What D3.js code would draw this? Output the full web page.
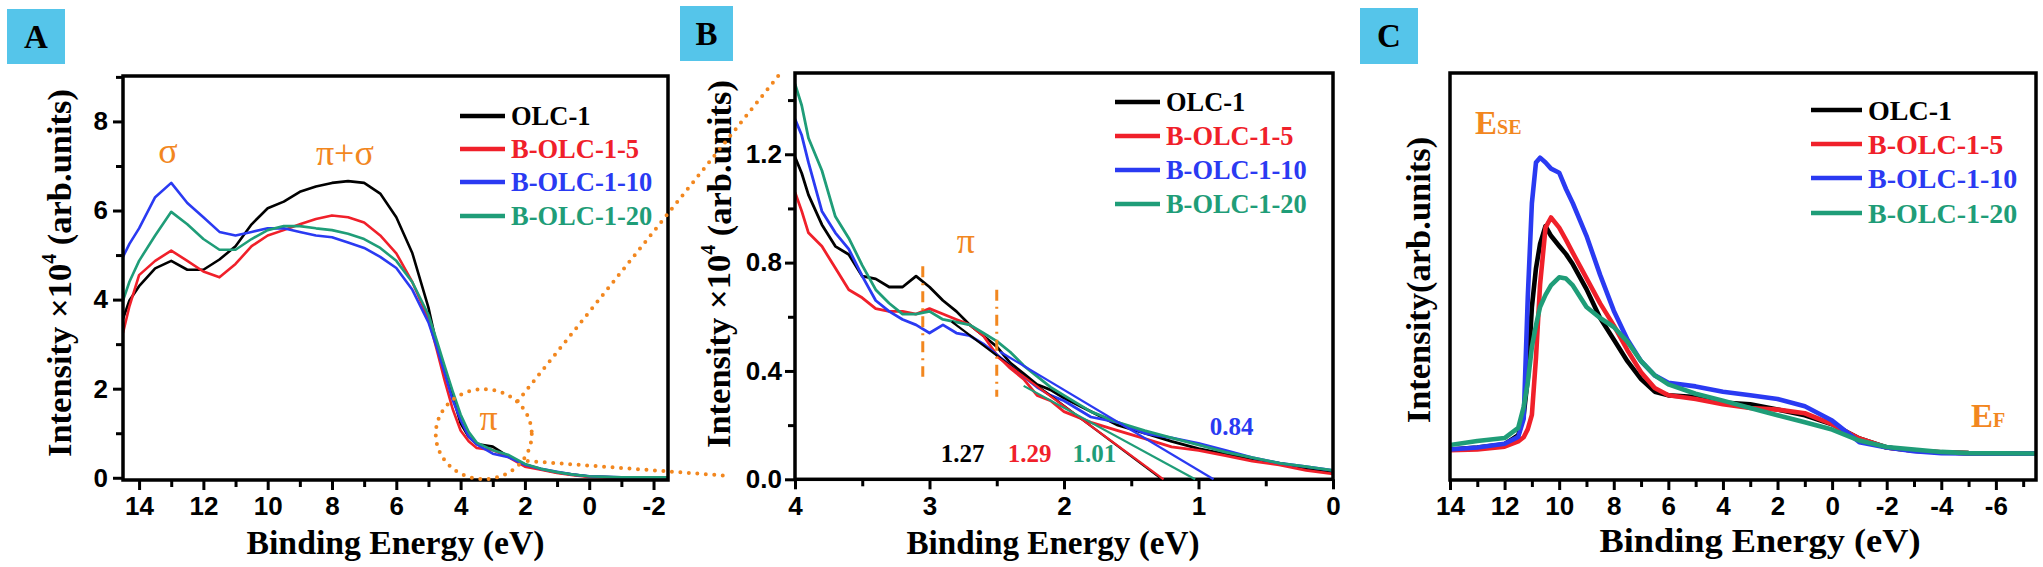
<!DOCTYPE html>
<html><head><meta charset="utf-8">
<script src="https://cdn.jsdelivr.net/npm/d3@7"></script>
<style>body{margin:0;background:#fff}svg{display:block}</style>
</head><body><svg id="c" width="2043" height="567"></svg>
<script>
// ---------------- DATA ----------------
const seriesNames = ["OLC-1", "B-OLC-1-5", "B-OLC-1-10", "B-OLC-1-20"];
const seriesColors = ["#000000", "#f0202a", "#2a3af2", "#1f9d78"];

// Panel A : UPS spectra (Intensity x10^4)
const energyA = [14.5,14.3,14,13.5,13,12.5,12,11.5,11,10.5,10,9.5,9,8.5,8,7.5,7,6.5,6,5.5,5,4.75,4.5,4.25,4,3.75,3.5,3,2.5,2,1.5,1,0.5,0,-1,-2.45];
const olcA   = [3.57,3.98,4.3,4.7,4.87,4.67,4.67,4.9,5.2,5.69,6.05,6.2,6.42,6.54,6.62,6.66,6.62,6.38,5.85,5.04,3.82,3.0,2.44,1.85,1.22,0.92,0.76,0.7,0.47,0.3,0.19,0.12,0.07,0.03,0.005,0.0];
const b5A    = [3.25,3.85,4.55,4.87,5.1,4.87,4.63,4.5,4.8,5.2,5.44,5.56,5.69,5.81,5.89,5.85,5.73,5.44,5.04,4.39,3.57,2.9,2.19,1.55,1.06,0.82,0.67,0.62,0.46,0.25,0.18,0.107,0.06,0.02,0.005,0.0];
const b10A   = [4.96,5.25,5.6,6.3,6.62,6.17,5.85,5.52,5.44,5.52,5.6,5.6,5.52,5.44,5.4,5.28,5.16,4.96,4.71,4.22,3.49,2.95,2.36,1.75,1.3,0.93,0.75,0.54,0.46,0.29,0.2,0.133,0.07,0.033,0.01,0.005];
const b20A   = [3.98,4.4,4.87,5.44,5.97,5.69,5.36,5.12,5.12,5.36,5.56,5.65,5.65,5.6,5.56,5.48,5.36,5.16,4.87,4.39,3.66,3.1,2.52,1.95,1.42,1.03,0.79,0.62,0.51,0.31,0.2,0.127,0.07,0.033,0.01,0.01];

// Panel B : zoom of the pi region
const energyB = [4,3.95,3.9,3.8,3.7,3.6,3.5,3.4,3.3,3.2,3.1,3.0,2.9,2.8,2.7,2.6,2.5,2.4,2.3,2.2,2.1,2.0,1.8,1.6,1.4,1.2,1.0,0.8,0.6,0.4,0.2,0.0];
const olcB  = [1.19,1.13,1.05,0.94,0.86,0.83,0.75,0.74,0.71,0.71,0.75,0.71,0.66,0.62,0.57,0.53,0.49,0.43,0.39,0.35,0.33,0.30,0.25,0.20,0.17,0.14,0.113,0.093,0.073,0.06,0.04,0.027];
const b5B   = [1.06,0.99,0.91,0.86,0.78,0.70,0.67,0.63,0.62,0.62,0.61,0.63,0.61,0.59,0.57,0.53,0.46,0.41,0.37,0.31,0.29,0.25,0.21,0.18,0.15,0.12,0.107,0.087,0.067,0.053,0.033,0.02];
const b10B  = [1.33,1.27,1.17,0.99,0.91,0.85,0.75,0.66,0.62,0.59,0.57,0.54,0.57,0.54,0.53,0.50,0.46,0.42,0.38,0.34,0.31,0.29,0.23,0.21,0.17,0.153,0.133,0.107,0.08,0.06,0.047,0.033];
const b20B  = [1.46,1.38,1.26,1.14,0.97,0.89,0.79,0.70,0.65,0.61,0.61,0.62,0.59,0.58,0.57,0.54,0.51,0.47,0.42,0.38,0.34,0.31,0.25,0.21,0.18,0.153,0.127,0.10,0.08,0.06,0.047,0.033];
// linear extrapolations (start point [E, I], end energy on the baseline)
const fitStartB = [[2.835,0.582],[2.5,0.453],[2.475,0.471],[2.3,0.345]];
const fitEndB   = [1.27,1.26,0.888,1.025];
const fitLabelsB = ["1.27","1.29","0.84","1.01"];
const piMarksB = [[3.05,0.787,0.379],[2.5,0.70,0.305]];

// Panel C : full spectra (arbitrary units, % of frame height)
const energyC = [14,13,12,11.5,11.3,11.15,11.0,10.85,10.7,10.5,10.3,10.0,9.75,9.5,9,8.5,8,7.5,7,6.5,6,5,4,3,2,1,0,-1,-2,-3,-4,-5,-7.45];
const olcC  = [7.5,8,8.8,11,16,25,42.5,52,58,62.4,60,57.5,55.5,53,46.9,39.8,34.5,29.2,24.8,21.7,20.8,20.4,19,18.6,17.3,15.9,13.7,10.2,8,7.2,6.8,6.6,6.5];
const b5C   = [7.3,7.5,8.2,9.5,10.5,12.5,16,30,48,62,64.5,62,59,55.8,49.6,43.4,38,31.9,26.5,22.6,20.8,19.9,18.6,17.7,17.3,16.4,13.7,10.2,8,7.2,6.8,6.6,6.5];
const b10C  = [7.5,8,8.9,10.6,15,45,68,78,79.2,78,76.5,75.5,71.5,68,60,50.4,41.6,34.5,29.2,25.7,23.9,23,21.7,20.8,19.9,18.1,14.6,9.3,8,7.1,6.6,6.5,6.5];
const b20C  = [8.6,9.6,10.3,12.8,18,24,32.7,38,42.5,45.5,47.8,49.8,49.5,47.8,42.5,39.8,37.6,34,29.2,25.7,23.5,21.2,19.5,17.7,15.9,14.2,12.4,9.7,8.1,7.5,6.9,6.6,6.5];

// tick labels
const xTicksA = [14,12,10,8,6,4,2,0,-2];
const yTicksA = [0,2,4,6,8];
const xTicksB = [4,3,2,1,0];
const yTicksB = [0.0,0.4,0.8,1.2];
const xTicksC = [14,12,10,8,6,4,2,0,-2,-4,-6];

// ---------------- DRAWING ----------------
const svg = d3.select("#c");
const SERIF = "'Liberation Serif','Times New Roman',serif";
const SANS = "'Liberation Sans',Arial,sans-serif";
const ORANGE = "#f2871f";

function range(a, b, step, skip) {
  const out = [];
  for (let v = a; v <= b + 1e-9; v += step) {
    const r = +v.toFixed(3);
    if (!skip.some(s => Math.abs(s - r) < 1e-6)) out.push(r);
  }
  return out;
}

function makePanel(cfg) {
  const g = svg.append("g");
  const x = d3.scaleLinear().domain(cfg.xDom).range([cfg.l, cfg.r]);
  const y = d3.scaleLinear().domain(cfg.yDom).range([cfg.b, cfg.t]);
  const clipId = "clip" + cfg.id;
  svg.append("clipPath").attr("id", clipId).append("rect")
    .attr("x", cfg.l).attr("y", cfg.t).attr("width", cfg.r - cfg.l).attr("height", cfg.b - cfg.t);

  // series
  const line = d3.line().x(d => x(d[0])).y(d => y(d[1]));
  const lg = g.append("g").attr("clip-path", `url(#${clipId})`);
  cfg.series.forEach((vals, i) => {
    lg.append("path").datum(cfg.energy.map((e, k) => [e, vals[k]]))
      .attr("d", line).attr("fill", "none").attr("stroke", seriesColors[i])
      .attr("stroke-width", cfg.lw).attr("stroke-linejoin", "round");
  });

  // axes
  const styleAxis = (sel) => {
    sel.select(".domain").remove();
    sel.selectAll(".tick line").attr("stroke", "#000").attr("stroke-width", 3);
    sel.selectAll(".tick text").attr("font-family", SANS).attr("font-weight", "bold")
      .attr("font-size", 26).attr("fill", "#000");
  };
  const noText = (sel) => { styleAxis(sel); sel.selectAll(".tick text").remove(); };
  g.append("g").attr("transform", `translate(0,${cfg.b})`)
    .call(d3.axisBottom(x).tickValues(cfg.xMinor).tickSize(7)).call(noText);
  g.append("g").attr("transform", `translate(0,${cfg.b})`)
    .call(d3.axisBottom(x).tickValues(cfg.xMajor).tickSize(10).tickPadding(7).tickFormat(d => String(d))).call(styleAxis);
  if (cfg.yMajor) {
    g.append("g").attr("transform", `translate(${cfg.l},0)`)
      .call(d3.axisLeft(y).tickValues(cfg.yMinor).tickSize(7)).call(noText);
    g.append("g").attr("transform", `translate(${cfg.l},0)`)
      .call(d3.axisLeft(y).tickValues(cfg.yMajor).tickSize(10).tickPadding(cfg.yPad).tickFormat(cfg.yFmt)).call(styleAxis);
  }
  g.append("rect").attr("x", cfg.l).attr("y", cfg.t).attr("width", cfg.r - cfg.l).attr("height", cfg.b - cfg.t)
    .attr("fill", "none").attr("stroke", "#000").attr("stroke-width", 3.5);

  // axis titles
  g.append("text").attr("x", (cfg.l + cfg.r) / 2 + cfg.xtDx).attr("y", cfg.xtY)
    .attr("text-anchor", "middle").attr("font-family", SERIF).attr("font-weight", "bold")
    .attr("font-size", cfg.xtSize).attr("textLength", cfg.xtLen).attr("lengthAdjust", "spacingAndGlyphs")
    .text("Binding Energy (eV)");
  const yt = g.append("text").attr("transform", `translate(${cfg.ytX},${cfg.ytY}) rotate(-90)`)
    .attr("text-anchor", "middle").attr("dy", "0.35em").attr("font-family", SERIF).attr("font-weight", "bold")
    .attr("font-size", 34.5);
  if (cfg.ytSup) {
    yt.append("tspan").text("Intensity ×10");
    yt.append("tspan").attr("font-size", 20).attr("dy", "-0.75em").text("4");
    yt.append("tspan").attr("dy", "0.45em").text(" (arb.units)");
  } else {
    yt.text("Intensity(arb.units)");
  }

  // legend
  seriesNames.forEach((n, i) => {
    const ry = cfg.leg.rows[i];
    g.append("line").attr("x1", cfg.leg.x1).attr("x2", cfg.leg.x2).attr("y1", ry).attr("y2", ry)
      .attr("stroke", seriesColors[i]).attr("stroke-width", 4.5);
    g.append("text").attr("x", cfg.leg.tx).attr("y", ry).attr("dy", "0.34em")
      .attr("font-family", SERIF).attr("font-weight", "bold").attr("font-size", cfg.leg.size)
      .attr("fill", seriesColors[i]).text(n);
  });

  // panel label
  g.append("rect").attr("x", cfg.box[0]).attr("y", cfg.box[1]).attr("width", cfg.box[2]).attr("height", cfg.box[3])
    .attr("fill", "#55c5ea");
  g.append("text").attr("x", cfg.box[0] + cfg.box[2] / 2).attr("y", cfg.box[1] + cfg.box[3] / 2).attr("dy", "0.34em")
    .attr("text-anchor", "middle").attr("font-family", SERIF).attr("font-weight", "bold").attr("font-size", 33)
    .attr("fill", "#000").text(cfg.id);
  return {g, x, y};
}

// Panel A
const A = makePanel({
  id: "A", l: 123, r: 668, t: 76, b: 480, xDom: [14.5, -2.45], yDom: [-0.05, 9.02],
  energy: energyA, series: [olcA, b5A, b10A, b20A], lw: 2.6,
  xMajor: xTicksA, xMinor: range(-2, 14, 1, xTicksA),
  yMajor: yTicksA, yMinor: range(0, 9, 1, yTicksA), yPad: 5, yFmt: d => String(d),
  xtY: 554, xtDx: 0, xtSize: 33.7, xtLen: 298, ytX: 58.5, ytY: 273, ytSup: true,
  leg: {x1: 460, x2: 505, tx: 511, rows: [116, 149, 182, 216], size: 26.5},
  box: [7, 9, 58, 55]
});
A.g.append("text").attr("x", A.x(13.1)).attr("y", 163).attr("text-anchor", "middle")
  .attr("font-family", SERIF).attr("font-size", 36).attr("fill", ORANGE).text("σ");
A.g.append("text").attr("x", A.x(7.6)).attr("y", 165).attr("text-anchor", "middle")
  .attr("font-family", SERIF).attr("font-size", 36).attr("fill", ORANGE).text("π+σ");
A.g.append("text").attr("x", A.x(3.13)).attr("y", 430).attr("text-anchor", "middle")
  .attr("font-family", SERIF).attr("font-size", 36).attr("fill", ORANGE).text("π");
const circ = {cx: A.x(3.28), cy: A.y(0.98)};
A.g.append("ellipse").attr("cx", circ.cx).attr("cy", circ.cy).attr("rx", 48).attr("ry", 45)
  .attr("fill", "none").attr("stroke", ORANGE).attr("stroke-width", 4).attr("stroke-dasharray", "0 8.5").attr("stroke-linecap", "round");

// Panel B
const B = makePanel({
  id: "B", l: 795, r: 1333, t: 73, b: 479.3, xDom: [4, 0], yDom: [0, 1.5],
  energy: energyB, series: [olcB, b5B, b10B, b20B], lw: 2.8,
  xMajor: xTicksB, xMinor: range(0, 4, 0.5, xTicksB),
  yMajor: yTicksB, yMinor: range(0, 1.4, 0.2, yTicksB), yPad: 3, yFmt: d3.format(".1f"),
  xtY: 554, xtDx: -11, xtSize: 33.7, xtLen: 293, ytX: 718, ytY: 264, ytSup: true,
  leg: {x1: 1115, x2: 1160, tx: 1166, rows: [102, 136, 170, 204], size: 26.4},
  box: [680, 6, 53, 55]
});
// fit lines
const fitG = B.g.append("g");
fitStartB.forEach((s, i) => {
  fitG.append("line").attr("x1", B.x(s[0])).attr("y1", B.y(s[1])).attr("x2", B.x(fitEndB[i])).attr("y2", B.y(0))
    .attr("stroke", seriesColors[i]).attr("stroke-width", 2.2);
});
// pi marks
piMarksB.forEach(m => {
  B.g.append("line").attr("x1", B.x(m[0])).attr("x2", B.x(m[0])).attr("y1", B.y(m[1])).attr("y2", B.y(m[2]))
    .attr("stroke", ORANGE).attr("stroke-width", 3).attr("stroke-dasharray", "11,6,2,6");
});
B.g.append("text").attr("x", B.x(2.73)).attr("y", 253).attr("text-anchor", "middle")
  .attr("font-family", SERIF).attr("font-size", 36).attr("fill", ORANGE).text("π");
const fitLabelPos = [[2.754, 0.064], [2.256, 0.064], [0.754, 0.164], [1.774, 0.064]];
fitLabelsB.forEach((t, i) => {
  B.g.append("text").attr("x", B.x(fitLabelPos[i][0])).attr("y", B.y(fitLabelPos[i][1]))
    .attr("text-anchor", "middle").attr("font-family", SERIF).attr("font-weight", "bold").attr("font-size", 25)
    .attr("fill", seriesColors[i]).text(t);
});

// Panel C
const C = makePanel({
  id: "C", l: 1450, r: 2036, t: 73, b: 480, xDom: [14, -7.47], yDom: [0, 100],
  energy: energyC, series: [olcC, b5C, b10C, b20C], lw: 4.6,
  xMajor: xTicksC, xMinor: range(-7, 14, 1, xTicksC),
  xtY: 552, xtDx: 17, xtSize: 34, xtLen: 321, ytX: 1418, ytY: 280, ytSup: false,
  leg: {x1: 1811, x2: 1862, tx: 1868, rows: [110, 144, 178, 213], size: 28},
  box: [1360, 8, 58, 56]
});
function eLabel(x0, yb, sub) {
  const t = C.g.append("text").attr("x", x0).attr("y", yb).attr("font-family", SERIF).attr("font-weight", "bold")
    .attr("fill", ORANGE).attr("font-size", 33);
  t.append("tspan").text("E");
  t.append("tspan").attr("font-size", 20).text(sub);
}
eLabel(1475, 134, "SE");
eLabel(1971, 427, "F");

// dotted connectors from circle in A to panel B
const dots = svg.append("g").attr("stroke", ORANGE).attr("stroke-width", 4).attr("stroke-linecap", "round")
  .attr("stroke-dasharray", "0 8.5").attr("fill", "none");
dots.append("line").attr("x1", circ.cx + 34).attr("y1", circ.cy - 33).attr("x2", B.x(4) - 12).attr("y2", 70);
dots.append("line").attr("x1", circ.cx + 44).attr("y1", circ.cy + 27).attr("x2", B.x(4) - 65).attr("y2", 476);
</script>
</body></html>
